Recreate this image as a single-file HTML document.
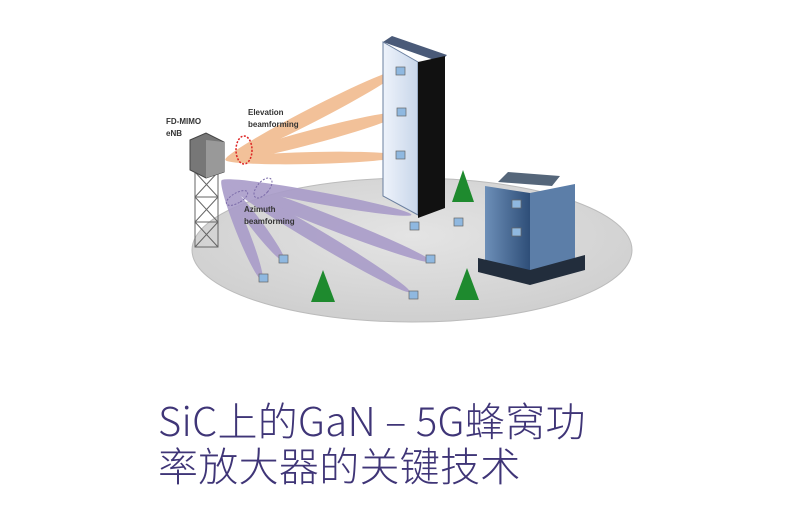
<!DOCTYPE html>
<html><head><meta charset="utf-8"><style>
body{margin:0;width:811px;height:505px;background:#fff;overflow:hidden;position:relative}
.t{position:absolute;left:158px;color:#3f3577;font-size:40px;font-weight:300;line-height:45px;white-space:nowrap;font-family:"Noto Sans CJK SC",sans-serif;letter-spacing:0.3px}
</style></head><body>
<svg width="811" height="505" style="position:absolute;left:0;top:0">
<defs>
<radialGradient id="g" cx="50%" cy="40%" r="60%"><stop offset="0" stop-color="#e4e4e4"/><stop offset="1" stop-color="#cfcfcf"/></radialGradient>
<linearGradient id="w" x1="0" x2="1"><stop offset="0" stop-color="#eef3fb"/><stop offset="1" stop-color="#c8d6ea"/></linearGradient>
<linearGradient id="o" x1="0" x2="1"><stop offset="0" stop-color="#6d8fb8"/><stop offset="1" stop-color="#2e4e78"/></linearGradient>
</defs>
<ellipse cx="412" cy="250" rx="220" ry="72" fill="url(#g)" stroke="#bbb"/>
<g fill="#a99cc9" opacity="0.9">
<ellipse cx="317" cy="197.5" rx="96" ry="6" transform="rotate(10.4 317 197.5)"/>
<ellipse cx="327" cy="221" rx="112" ry="7" transform="rotate(21.3 327 221)"/>
<ellipse cx="316" cy="236" rx="109" ry="7" transform="rotate(30.8 316 236)"/>
<ellipse cx="253.5" cy="221" rx="51" ry="6" transform="rotate(52.5 253.5 221)"/>
<ellipse cx="242" cy="230" rx="54" ry="6" transform="rotate(68.2 242 230)"/>
</g>
<g fill="#f2c199">
<ellipse cx="312.5" cy="115" rx="98" ry="7" transform="rotate(-27.2 312.5 115)"/>
<ellipse cx="313.5" cy="136.5" rx="91" ry="7" transform="rotate(-14.9 313.5 136.5)"/>
<ellipse cx="312.5" cy="158" rx="87" ry="6" transform="rotate(-1.3 312.5 158)"/>
</g>
<ellipse cx="244" cy="150" rx="8" ry="14" fill="none" stroke="#d22" stroke-dasharray="2 1.5" stroke-width="1.5"/>
<ellipse cx="263" cy="188" rx="6" ry="12" transform="rotate(40 263 188)" fill="none" stroke="#7a6aa8" stroke-dasharray="2 1.5"/>
<ellipse cx="237" cy="198" rx="5" ry="12" transform="rotate(60 237 198)" fill="none" stroke="#7a6aa8" stroke-dasharray="2 1.5"/>
<polygon points="383,42 392,36 447,55 440,62" fill="#4a5a78"/>
<polygon points="383,42 418,62 418,215 383,196" fill="url(#w)" stroke="#6a7f9f"/>
<polygon points="418,62 445,56 445,208 418,218" fill="#111"/>
<g stroke="#666" fill="none">
<rect x="195" y="172" width="23" height="75"/>
<path d="M195 172 L218 197 L195 222 L218 247 M218 172 L195 197 L218 222 L195 247 M195 197 H218 M195 222 H218"/>
</g>
<polygon points="190,140 206,133 224,142 224,172 206,178 190,170" fill="#777" stroke="#444"/>
<polygon points="206,140 224,142 224,172 206,178" fill="#999"/>
<polygon points="498,182 508,172 560,176 552,186" fill="#55667a"/>
<polygon points="485,186 530,193 530,272 485,262" fill="url(#o)"/>
<polygon points="530,193 575,184 575,262 530,272" fill="#5c7ea8"/>
<polygon points="478,258 530,270 585,255 585,270 530,285 478,272" fill="#222d3c"/>
<g fill="#1e8a2e">
<polygon points="463,170 452,202 474,202"/><polygon points="323,270 311,302 335,302"/><polygon points="467,268 455,300 479,300"/>
</g>
<g fill="#8fb8e0" stroke="#666" stroke-width="0.7">
<rect x="396" y="67" width="9" height="8"/><rect x="397" y="108" width="9" height="8"/><rect x="396" y="151" width="9" height="8"/>
<rect x="410" y="222" width="9" height="8"/><rect x="454" y="218" width="9" height="8"/><rect x="426" y="255" width="9" height="8"/>
<rect x="279" y="255" width="9" height="8"/><rect x="259" y="274" width="9" height="8"/><rect x="409" y="291" width="9" height="8"/>
<rect x="512" y="200" width="9" height="8"/><rect x="512" y="228" width="9" height="8"/>
</g>
<g font-family="Liberation Sans,sans-serif" font-size="8" font-weight="bold" fill="#333">
<text x="166" y="124">FD-MIMO</text><text x="166" y="136">eNB</text>
<text x="248" y="115">Elevation</text><text x="248" y="127">beamforming</text>
<text x="244" y="212">Azimuth</text><text x="244" y="224">beamforming</text>
</g>
</svg>
<div class="t" style="top:397px">SiC上的GaN – 5G蜂窝功</div>
<div class="t" style="top:442px">率放大器的关键技术</div>
</body></html>
